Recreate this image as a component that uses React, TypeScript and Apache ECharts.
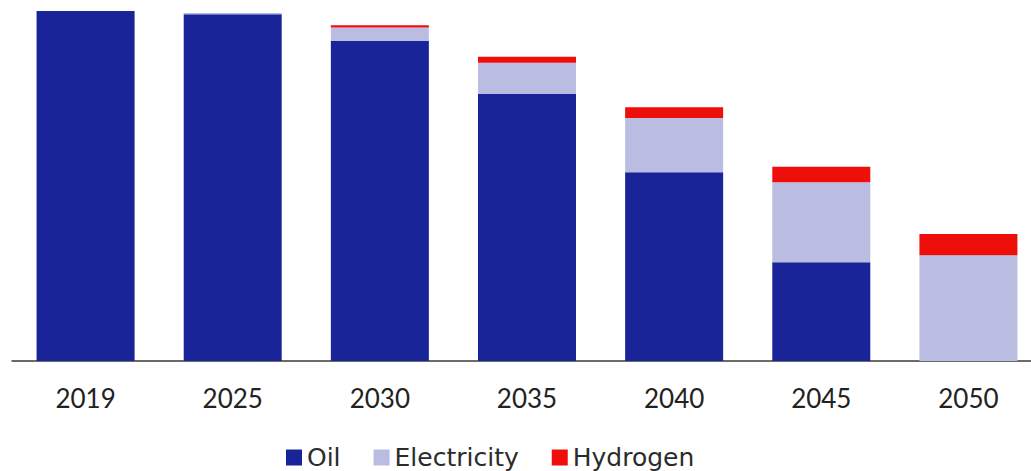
import React, { useEffect, useRef } from "react";
import * as echarts from "echarts";

const years = ["2019", "2025", "2030", "2035", "2040", "2045", "2050"];
const oil = [100, 99.1, 91.5, 76.3, 53.9, 28.2, 0];
const electricity = [0, 0.3, 3.8, 8.9, 15.5, 22.9, 30.2];
const hydrogen = [0, 0, 0.6, 1.7, 3.1, 4.4, 6.1];

export default function App() {
  const ref = useRef<HTMLDivElement>(null);
  useEffect(() => {
    if (!ref.current) return;
    const chart = echarts.init(ref.current, undefined, { renderer: "svg" });
    const font = "Lato";
    chart.setOption({
      animation: false,
      grid: { left: 12, right: 0, top: 11, bottom: 110 },
      legend: {
        left: 281,
        top: 440,
        itemWidth: 16,
        itemHeight: 16,
        itemGap: 33,
        icon: "rect",
        textStyle: { fontFamily: "DejaVu Sans", fontSize: 25, color: "#2b2b2b" },
        data: ["Oil", "Electricity", "Hydrogen"],
      },
      xAxis: {
        type: "category",
        data: years,
        axisLine: { lineStyle: { color: "#3a3a3a", width: 1.5 } },
        axisTick: { show: false },
        axisLabel: { fontFamily: font, fontSize: 26, color: "#222", margin: 24 },
      },
      yAxis: {
        type: "value",
        min: 0,
        max: 100,
        show: false,
        splitLine: { show: false },
      },
      series: [
        { name: "Oil", type: "bar", stack: "t", data: oil, barWidth: 98, itemStyle: { color: "#182498" } },
        { name: "Electricity", type: "bar", stack: "t", data: electricity, barWidth: 98, itemStyle: { color: "#BABDE1" } },
        { name: "Hydrogen", type: "bar", stack: "t", data: hydrogen, barWidth: 98, itemStyle: { color: "#EE0E0A" } },
      ],
    });
    return () => chart.dispose();
  }, []);
  return (
    <div
      ref={ref}
      style={{ position: "fixed", left: 0, top: 0, width: 1042, height: 471, background: "#fff" }}
    />
  );
}
